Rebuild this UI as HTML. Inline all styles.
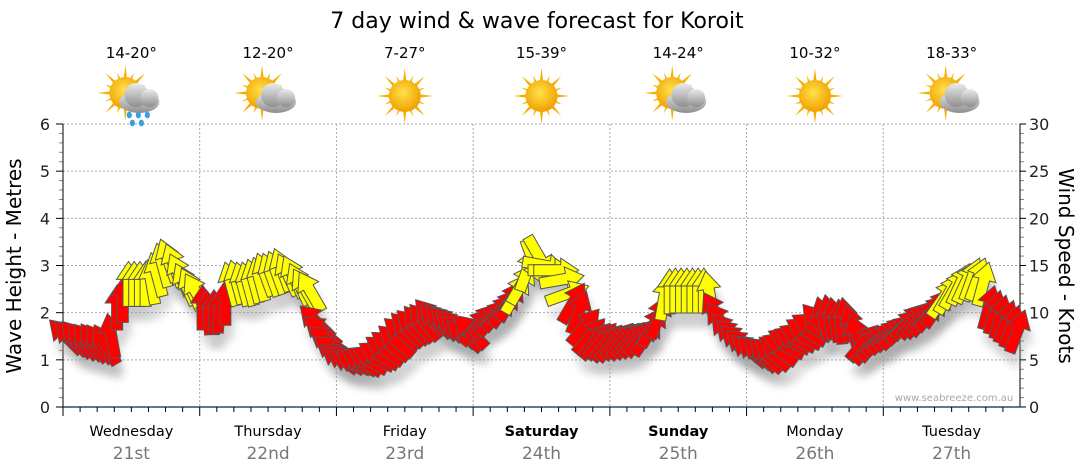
<!DOCTYPE html>
<html><head><meta charset="utf-8"><style>
body{margin:0;background:#fff;}
svg{display:block;font-family:"DejaVu Sans","Liberation Sans",sans-serif;}
</style></head><body>
<svg id="chart" width="1080" height="475" viewBox="0 0 1080 475">
<defs>
<radialGradient id="sunG" cx="45%" cy="40%" r="60%"><stop offset="0" stop-color="#ffe14a"/><stop offset="1" stop-color="#f0a000"/></radialGradient>
<linearGradient id="cloudG" x1="0" y1="0" x2="0" y2="1"><stop offset="0" stop-color="#ececec"/><stop offset="1" stop-color="#8e8e8e"/></linearGradient>
<filter id="sh" x="-50%" y="-50%" width="200%" height="200%"><feGaussianBlur stdDeviation="4"/></filter>
</defs>
<text x="537" y="28" text-anchor="middle" font-size="22" fill="#000">7 day wind &amp; wave forecast for Koroit</text>
<g id="grid"></g>
<g id="axes"></g>
<g id="icons"></g>
<g id="shadows"></g>
<g id="arrows"></g>
<text x="954" y="401" text-anchor="middle" font-size="10" fill="#a8a8a8">www.seabreeze.com.au</text>
<text transform="translate(21,266) rotate(-90)" text-anchor="middle" font-size="20" fill="#000">Wave Height - Metres</text>
<text transform="translate(1059,266) rotate(90)" text-anchor="middle" font-size="20" fill="#000">Wind Speed - Knots</text>
</svg>
<script>
const days = ["Wednesday","Thursday","Friday","Saturday","Sunday","Monday","Tuesday"];
const dates = ["21st","22nd","23rd","24th","25th","26th","27th"];
const weekend = [false,false,false,true,true,false,false];
const temps = ["14-20°","12-20°","7-27°","15-39°","14-24°","10-32°","18-33°"];
const weather = ["rain","cloud","sun","sun","cloud","sun","cloud"];
const waveTicks = [0,1,2,3,4,5,6];
const windTicks = [0,5,10,15,20,25,30];
const windSpeed = [
7.5,7.3,7.2,7.0,6.9,6.8,6.7,6.6,7.5,10.5,11.3,13,13,13,13,13.2,14,15,15.5,15,14,13,12.5,12,
10.5,10,10,10.2,11,13,13.2,13,13,13.3,13.5,14,14,14.2,14.5,14,13.8,13,12.5,12.2,9,8,7,6,
5.2,5,4.8,4.7,4.8,5,5.2,5.5,6,6.5,7,7.8,8.2,8.5,8.8,9,9.5,9.2,9,8.8,8.5,8,7.6,8,
8.5,9,9.2,9.5,10,10.5,11.2,12,13,14.5,15.5,16,15,14.5,14.5,13.5,12,11,10,8.5,7.5,7,7,6.8,
6.8,7,7,7.1,7.2,7.3,7.5,8.5,9.5,11.5,12.2,12.3,12.3,12.3,12.3,12.3,12.3,12,10,9,8,7.5,7,6.5,
6,5.8,5.6,5.5,5.6,6,6.5,7,7.2,7.5,8,8.5,9,9.3,9.5,9.2,9,9.2,8.5,7.5,6.8,6.5,6.8,7.2,
7.5,7.8,8,8.5,9,9.2,9.3,9.5,10,10.5,11.5,12,12.5,13,13.2,13.5,13.5,13,10.5,10,9.5,9,8.5,8];
const windDir = [
-45,-45,-40,-40,-40,-35,-35,-30,-10,0,0,0,0,0,0,-10,-15,-15,-20,-20,-25,-25,-25,-30,
0,-5,0,5,0,-15,-15,-15,-15,-15,-15,-20,-20,-20,-20,-25,-25,-25,-30,-30,-45,-50,-55,-55,
-55,-60,-65,-65,-60,-60,-65,-60,-55,-55,-50,-50,-45,-45,-40,-40,-40,-45,-45,-45,-50,-50,-50,-45,
40,40,40,40,40,35,30,30,30,20,160,150,100,90,90,80,70,30,20,40,40,40,40,40,
40,40,40,40,40,40,35,30,20,10,0,0,0,0,0,0,0,-10,-30,-35,-40,-45,-50,-50,
-50,-50,-45,-45,-50,-55,-65,-65,-65,-65,-60,-60,-40,-15,-10,-10,-5,-10,-15,-20,40,40,40,45,
45,45,45,45,45,40,40,40,40,35,35,30,30,25,25,20,20,15,15,15,15,20,20,20];

const NS="http://www.w3.org/2000/svg";
const X0=63,X1=1020,Y0=407,Y1=124;
const dayW=(X1-X0)/7;
const xHour=h=>X0+(h+0.5)*(X1-X0)/168;
const yWave=v=>Y0-(v/6)*(Y0-Y1);
const yWind=v=>Y0-(v/30)*(Y0-Y1);
function mk(tag,attrs,parent){const e=document.createElementNS(NS,tag);for(const k in attrs)e.setAttribute(k,attrs[k]);parent.appendChild(e);return e;}
const grid=document.getElementById('grid'),axes=document.getElementById('axes'),icons=document.getElementById('icons');

waveTicks.forEach(v=>{
  if(v>0){const l=mk('line',{x1:X0,x2:X1,y1:yWave(v),y2:yWave(v),stroke:'#aaa','stroke-dasharray':'2,2'},grid);
  
  }
  const t=mk('text',{x:50,y:yWave(v)+6,'text-anchor':'end','font-size':16,fill:'#222'},axes);t.textContent=v;
  
  
  mk('line',{x1:56,x2:X0,y1:yWave(v),y2:yWave(v),stroke:'#000'},axes);
  if(v<6)for(let i=1;i<5;i++){mk('line',{x1:59,x2:X0,y1:yWave(v+i*0.2),y2:yWave(v+i*0.2),stroke:'#888'},axes);}
});
windTicks.forEach(v=>{
  const t=mk('text',{x:1029,y:yWind(v)+6,'font-size':16,fill:'#222'},axes);t.textContent=v;
  
  
  mk('line',{x1:X1,x2:X1+6,y1:yWind(v),y2:yWind(v),stroke:'#000'},axes);
  if(v<30)for(let i=1;i<5;i++){mk('line',{x1:X1,x2:X1+4,y1:yWind(v+i),y2:yWind(v+i),stroke:'#888'},axes);}
});
mk('line',{x1:X0,x2:X0,y1:Y1,y2:Y0+8,stroke:'#000'},axes);
mk('line',{x1:X1,x2:X1,y1:Y1,y2:Y0,stroke:'#000'},axes);
mk('line',{x1:X0,x2:X1,y1:Y0,y2:Y0,stroke:'#1f4e79','stroke-width':1.5},axes);

days.forEach((d,i)=>{
  const x=X0+i*dayW, cx=x+dayW/2;
  if(i>0){const g=mk('line',{x1:x,x2:x,y1:Y1,y2:Y0,stroke:'#aaa','stroke-dasharray':'2,2'},grid);
  
  }
  mk('line',{x1:x,x2:x,y1:Y0,y2:Y0+9,stroke:'#000'},axes);
  for(let k=1;k<8;k++)mk('line',{x1:x+k*dayW/8,x2:x+k*dayW/8,y1:Y0,y2:Y0+5,stroke:'#000'},axes);
  const t=mk('text',{x:cx,y:436,'text-anchor':'middle','font-size':14.5,fill:'#000','font-weight':weekend[i]?'bold':'normal'},axes);t.textContent=d;
  
  
  const t2=mk('text',{x:cx,y:459,'text-anchor':'middle','font-size':17,fill:'#777'},axes);t2.textContent=dates[i];
  
  
  const t3=mk('text',{x:cx,y:58,'text-anchor':'middle','font-size':15,fill:'#000'},icons);t3.textContent=temps[i];
  
  
  const g=mk('g',{transform:`translate(${cx},96)`},icons);
  
  
  const sx=weather[i]==='sun'?0:-6, sy=weather[i]==='sun'?0:-3;
  for(let r=0;r<16;r++){const a=r*22.5;const L=r%2?22:28;
    mk('polygon',{points:`${-3.5},0 3.5,0 0,${-L}`,fill:'#f7b000',transform:`translate(${sx},${sy}) rotate(${a})`},g);}
  mk('circle',{cx:sx,cy:sy,r:16,fill:'url(#sunG)'},g);
  if(weather[i]!=='sun'){
    mk('ellipse',{cx:8,cy:6,rx:20,ry:11,fill:'url(#cloudG)'},g);
    mk('circle',{cx:5,cy:-1,r:12,fill:'url(#cloudG)'},g);
    mk('circle',{cx:18,cy:2,r:9,fill:'url(#cloudG)'},g);
  }
  if(weather[i]==='rain'){[[-2,19],[7,19],[16,19],[1,27],[10,27]].forEach(p=>mk('ellipse',{cx:p[0],cy:p[1],rx:2.6,ry:3.4,fill:'#3aa0e0'},g));}
});

const arrowPts="0,-23 12,-5 5.5,-5 5.5,22 -5.5,22 -5.5,-5 -12,-5";
const arrows=document.getElementById('arrows'),shadows=document.getElementById('shadows');
windSpeed.forEach((s,h)=>{
  const x=xHour(h),y=yWind(s);
  mk('polygon',{points:arrowPts,fill:'#999',opacity:0.3,filter:'url(#sh)',transform:`translate(${x+4},${y+14}) rotate(${windDir[h]})`},shadows);
  const p=mk('polygon',{points:arrowPts,fill:s>=11.5?'#ffff00':'#ff0000',stroke:'#555','stroke-width':1,transform:`translate(${x},${y}) rotate(${windDir[h]})`},arrows);
  
  
});
</script>
</body></html>
